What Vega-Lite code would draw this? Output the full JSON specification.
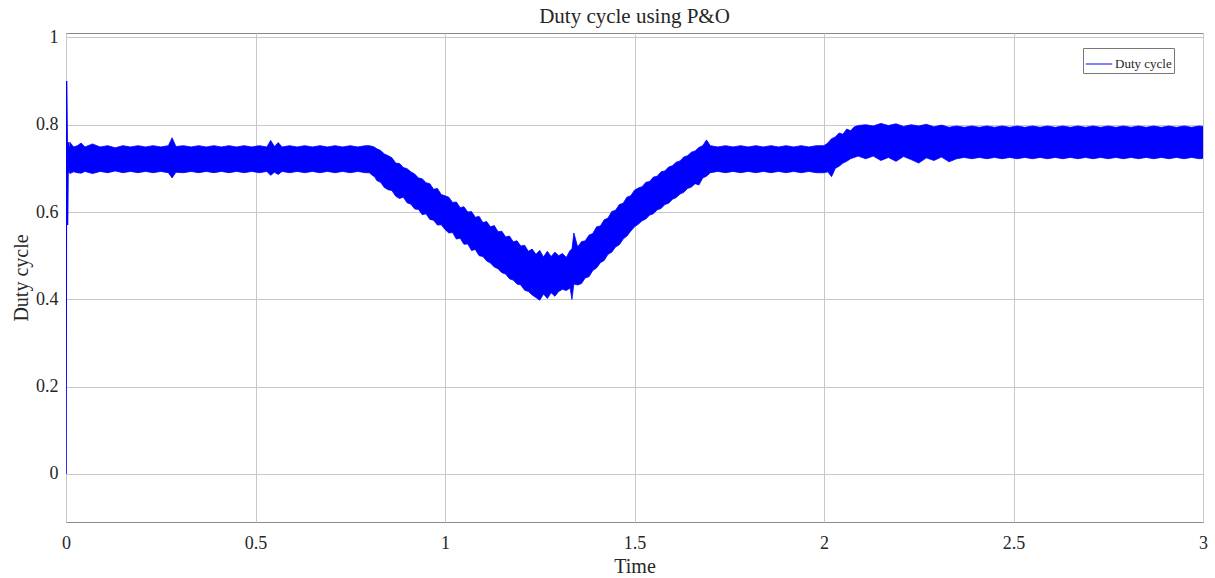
{
"$schema": "https://vega.github.io/schema/vega-lite/v6.json",
"width": 1137, "height": 489,
"autosize": {"type": "none"},
"padding": {"left": 66, "top": 33, "right": 12, "bottom": 56},
"background": "white",
"title": {"text": "Duty cycle using P&O", "font": "Liberation Serif", "fontSize": 21, "fontWeight": "normal", "color": "#262626", "offset": 1, "anchor": "middle"},
"config": {
  "view": {"stroke": "#8a8a8a", "strokeWidth": 1},
  "axis": {"labelFont": "Liberation Serif", "titleFont": "Liberation Serif", "labelFontSize": 18, "titleFontSize": 20, "titleFontWeight": "normal", "labelColor": "#262626", "titleColor": "#262626", "gridColor": "#c8c8c8", "gridWidth": 1, "domain": false, "tickColor": "#555", "tickSize": 0, "labelFlush": false}
},
"datasets": {
"band": [
{"t":0.01,"lo":0.688,"hi":0.760},{"t":0.02,"lo":0.692,"hi":0.749},{"t":0.03,"lo":0.690,"hi":0.752},{"t":0.04,"lo":0.689,"hi":0.758},{"t":0.05,"lo":0.693,"hi":0.749},
{"t":0.07,"lo":0.688,"hi":0.756},{"t":0.09,"lo":0.693,"hi":0.749},{"t":0.11,"lo":0.690,"hi":0.752},{"t":0.13,"lo":0.694,"hi":0.747},
{"t":0.15,"lo":0.690,"hi":0.752},{"t":0.17,"lo":0.693,"hi":0.749},{"t":0.19,"lo":0.690,"hi":0.752},{"t":0.21,"lo":0.693,"hi":0.749},
{"t":0.23,"lo":0.690,"hi":0.752},{"t":0.25,"lo":0.693,"hi":0.749},{"t":0.27,"lo":0.690,"hi":0.752},{"t":0.28,"lo":0.678,"hi":0.770},
{"t":0.29,"lo":0.691,"hi":0.750},{"t":0.31,"lo":0.690,"hi":0.752},{"t":0.33,"lo":0.693,"hi":0.749},{"t":0.35,"lo":0.690,"hi":0.752},
{"t":0.37,"lo":0.693,"hi":0.749},{"t":0.39,"lo":0.690,"hi":0.752},{"t":0.41,"lo":0.693,"hi":0.749},{"t":0.43,"lo":0.690,"hi":0.752},
{"t":0.45,"lo":0.693,"hi":0.749},{"t":0.47,"lo":0.690,"hi":0.752},{"t":0.49,"lo":0.693,"hi":0.749},{"t":0.51,"lo":0.690,"hi":0.752},
{"t":0.53,"lo":0.693,"hi":0.749},{"t":0.54,"lo":0.684,"hi":0.764},{"t":0.55,"lo":0.691,"hi":0.750},{"t":0.56,"lo":0.686,"hi":0.759},
{"t":0.57,"lo":0.693,"hi":0.749},{"t":0.59,"lo":0.690,"hi":0.752},{"t":0.61,"lo":0.693,"hi":0.749},{"t":0.63,"lo":0.690,"hi":0.752},
{"t":0.65,"lo":0.693,"hi":0.749},{"t":0.67,"lo":0.690,"hi":0.752},{"t":0.69,"lo":0.693,"hi":0.749},{"t":0.71,"lo":0.690,"hi":0.752},
{"t":0.73,"lo":0.693,"hi":0.749},{"t":0.75,"lo":0.690,"hi":0.752},{"t":0.77,"lo":0.693,"hi":0.749},{"t":0.79,"lo":0.690,"hi":0.752},
{"t":0.80,"lo":0.690,"hi":0.752},{"t":0.81,"lo":0.683,"hi":0.750},{"t":0.815,"lo":0.680,"hi":0.748},{"t":0.82,"lo":0.672,"hi":0.745},{"t":0.83,"lo":0.668,"hi":0.741},
{"t":0.84,"lo":0.656,"hi":0.733},{"t":0.85,"lo":0.651,"hi":0.729},{"t":0.86,"lo":0.649,"hi":0.724},{"t":0.87,"lo":0.636,"hi":0.712},
{"t":0.88,"lo":0.631,"hi":0.711},{"t":0.89,"lo":0.634,"hi":0.702},{"t":0.90,"lo":0.621,"hi":0.699},{"t":0.91,"lo":0.618,"hi":0.692},
{"t":0.92,"lo":0.607,"hi":0.687},{"t":0.93,"lo":0.606,"hi":0.678},{"t":0.94,"lo":0.594,"hi":0.676},{"t":0.95,"lo":0.596,"hi":0.667},
{"t":0.96,"lo":0.583,"hi":0.665},{"t":0.97,"lo":0.581,"hi":0.652},{"t":0.98,"lo":0.570,"hi":0.654},{"t":0.99,"lo":0.571,"hi":0.640},
{"t":1.00,"lo":0.560,"hi":0.637},{"t":1.01,"lo":0.552,"hi":0.634},{"t":1.02,"lo":0.553,"hi":0.622},{"t":1.03,"lo":0.538,"hi":0.623},
{"t":1.04,"lo":0.540,"hi":0.610},{"t":1.05,"lo":0.526,"hi":0.612},{"t":1.06,"lo":0.527,"hi":0.600},{"t":1.07,"lo":0.512,"hi":0.601},
{"t":1.08,"lo":0.514,"hi":0.588},{"t":1.09,"lo":0.500,"hi":0.590},{"t":1.10,"lo":0.498,"hi":0.576},{"t":1.11,"lo":0.488,"hi":0.578},
{"t":1.12,"lo":0.483,"hi":0.566},{"t":1.13,"lo":0.474,"hi":0.569},{"t":1.14,"lo":0.470,"hi":0.555},{"t":1.15,"lo":0.461,"hi":0.556},
{"t":1.16,"lo":0.458,"hi":0.543},{"t":1.17,"lo":0.447,"hi":0.545},{"t":1.18,"lo":0.444,"hi":0.532},{"t":1.19,"lo":0.435,"hi":0.534},
{"t":1.20,"lo":0.433,"hi":0.522},{"t":1.21,"lo":0.421,"hi":0.524},{"t":1.22,"lo":0.418,"hi":0.510},{"t":1.23,"lo":0.410,"hi":0.515},
{"t":1.24,"lo":0.404,"hi":0.503},{"t":1.25,"lo":0.398,"hi":0.512},{"t":1.26,"lo":0.412,"hi":0.497},{"t":1.27,"lo":0.402,"hi":0.510},
{"t":1.28,"lo":0.415,"hi":0.498},{"t":1.29,"lo":0.407,"hi":0.508},{"t":1.30,"lo":0.418,"hi":0.500},{"t":1.31,"lo":0.423,"hi":0.505},
{"t":1.32,"lo":0.420,"hi":0.496},{"t":1.33,"lo":0.426,"hi":0.512},{"t":1.335,"lo":0.400,"hi":0.515},{"t":1.34,"lo":0.435,"hi":0.552},
{"t":1.35,"lo":0.433,"hi":0.520},{"t":1.36,"lo":0.436,"hi":0.532},{"t":1.37,"lo":0.449,"hi":0.534},{"t":1.38,"lo":0.452,"hi":0.547},
{"t":1.39,"lo":0.466,"hi":0.551},{"t":1.40,"lo":0.472,"hi":0.566},{"t":1.41,"lo":0.484,"hi":0.568},{"t":1.42,"lo":0.489,"hi":0.582},
{"t":1.43,"lo":0.503,"hi":0.586},{"t":1.44,"lo":0.508,"hi":0.601},{"t":1.45,"lo":0.520,"hi":0.604},{"t":1.46,"lo":0.525,"hi":0.617},
{"t":1.47,"lo":0.538,"hi":0.620},{"t":1.48,"lo":0.545,"hi":0.634},{"t":1.49,"lo":0.556,"hi":0.637},{"t":1.50,"lo":0.566,"hi":0.650},
{"t":1.51,"lo":0.572,"hi":0.655},{"t":1.52,"lo":0.580,"hi":0.658},{"t":1.53,"lo":0.584,"hi":0.668},{"t":1.54,"lo":0.593,"hi":0.670},
{"t":1.55,"lo":0.596,"hi":0.680},{"t":1.56,"lo":0.605,"hi":0.682},{"t":1.57,"lo":0.608,"hi":0.692},{"t":1.58,"lo":0.617,"hi":0.694},
{"t":1.59,"lo":0.620,"hi":0.703},{"t":1.60,"lo":0.629,"hi":0.706},{"t":1.61,"lo":0.633,"hi":0.714},{"t":1.62,"lo":0.641,"hi":0.717},
{"t":1.63,"lo":0.645,"hi":0.726},{"t":1.64,"lo":0.654,"hi":0.729},{"t":1.65,"lo":0.657,"hi":0.737},{"t":1.66,"lo":0.665,"hi":0.740},
{"t":1.67,"lo":0.662,"hi":0.748},{"t":1.68,"lo":0.678,"hi":0.752},{"t":1.69,"lo":0.682,"hi":0.765},{"t":1.70,"lo":0.690,"hi":0.752},
{"t":1.72,"lo":0.693,"hi":0.749},{"t":1.74,"lo":0.690,"hi":0.752},{"t":1.76,"lo":0.693,"hi":0.749},{"t":1.78,"lo":0.690,"hi":0.752},
{"t":1.80,"lo":0.693,"hi":0.749},{"t":1.82,"lo":0.690,"hi":0.752},{"t":1.84,"lo":0.693,"hi":0.749},{"t":1.86,"lo":0.690,"hi":0.752},
{"t":1.88,"lo":0.693,"hi":0.749},{"t":1.90,"lo":0.690,"hi":0.752},{"t":1.92,"lo":0.693,"hi":0.749},{"t":1.94,"lo":0.690,"hi":0.752},
{"t":1.96,"lo":0.693,"hi":0.749},{"t":1.98,"lo":0.690,"hi":0.752},{"t":2.00,"lo":0.690,"hi":0.752},{"t":2.01,"lo":0.692,"hi":0.758},
{"t":2.02,"lo":0.681,"hi":0.768},{"t":2.03,"lo":0.700,"hi":0.772},{"t":2.04,"lo":0.705,"hi":0.781},{"t":2.05,"lo":0.712,"hi":0.778},
{"t":2.06,"lo":0.716,"hi":0.790},{"t":2.07,"lo":0.722,"hi":0.786},{"t":2.08,"lo":0.725,"hi":0.795},{"t":2.09,"lo":0.728,"hi":0.798},
{"t":2.11,"lo":0.722,"hi":0.800},{"t":2.13,"lo":0.728,"hi":0.797},{"t":2.15,"lo":0.718,"hi":0.803},{"t":2.17,"lo":0.725,"hi":0.798},
{"t":2.19,"lo":0.716,"hi":0.802},{"t":2.21,"lo":0.727,"hi":0.796},{"t":2.23,"lo":0.720,"hi":0.800},{"t":2.25,"lo":0.712,"hi":0.797},
{"t":2.27,"lo":0.724,"hi":0.801},{"t":2.29,"lo":0.718,"hi":0.795},{"t":2.31,"lo":0.726,"hi":0.799},{"t":2.33,"lo":0.715,"hi":0.794},
{"t":2.35,"lo":0.722,"hi":0.797},{"t":2.37,"lo":0.725,"hi":0.794},{"t":2.39,"lo":0.722,"hi":0.797},{"t":2.41,"lo":0.725,"hi":0.794},
{"t":2.43,"lo":0.722,"hi":0.797},{"t":2.45,"lo":0.725,"hi":0.794},{"t":2.47,"lo":0.722,"hi":0.797},{"t":2.49,"lo":0.725,"hi":0.794},
{"t":2.51,"lo":0.722,"hi":0.797},{"t":2.53,"lo":0.725,"hi":0.794},{"t":2.55,"lo":0.722,"hi":0.797},{"t":2.57,"lo":0.725,"hi":0.794},
{"t":2.59,"lo":0.722,"hi":0.797},{"t":2.61,"lo":0.725,"hi":0.794},{"t":2.63,"lo":0.722,"hi":0.797},{"t":2.65,"lo":0.725,"hi":0.794},
{"t":2.67,"lo":0.722,"hi":0.797},{"t":2.69,"lo":0.725,"hi":0.794},{"t":2.71,"lo":0.722,"hi":0.797},{"t":2.73,"lo":0.725,"hi":0.794},
{"t":2.75,"lo":0.722,"hi":0.797},{"t":2.77,"lo":0.725,"hi":0.794},{"t":2.79,"lo":0.722,"hi":0.797},{"t":2.81,"lo":0.725,"hi":0.794},
{"t":2.83,"lo":0.722,"hi":0.797},{"t":2.85,"lo":0.725,"hi":0.794},{"t":2.87,"lo":0.722,"hi":0.797},{"t":2.89,"lo":0.725,"hi":0.794},
{"t":2.91,"lo":0.722,"hi":0.797},{"t":2.93,"lo":0.725,"hi":0.794},{"t":2.95,"lo":0.722,"hi":0.797},{"t":2.97,"lo":0.725,"hi":0.794},
{"t":2.99,"lo":0.722,"hi":0.797},{"t":3.00,"lo":0.723,"hi":0.796}
],
"init": [
{"t":0,"v":0},{"t":0.0015,"v":0.9},{"t":0.003,"v":0.78},{"t":0.004,"v":0.57},{"t":0.006,"v":0.76},{"t":0.008,"v":0.69},{"t":0.01,"v":0.75}
]
},
"layer": [
{
  "data": {"name": "band"},
  "mark": {"type": "area", "stroke": "#0000ff", "strokeWidth": 0.8, "strokeJoin": "miter", "clip": true},
  "encoding": {
    "x": {"field": "t", "type": "quantitative", "scale": {"domain": [0, 3], "nice": false, "zero": false},
          "axis": {"title": "Time", "values": [0,0.5,1,1.5,2,2.5,3], "format": "~g", "labelPadding": 12, "titlePadding": 4, "grid": true}},
    "y": {"field": "lo", "type": "quantitative", "scale": {"domain": [-0.11, 1.01], "nice": false, "zero": false},
          "axis": {"title": "Duty cycle", "values": [0,0.2,0.4,0.6,0.8,1], "format": "~g", "labelPadding": 8, "titlePadding": 4, "grid": true}},
    "y2": {"field": "hi"},
    "color": {"datum": "Duty cycle", "type": "nominal", "scale": {"range": ["#0000ff"]},
      "legend": {"title": null, "orient": "none", "legendX": 1017, "legendY": 15, "symbolType": "stroke", "symbolStrokeColor": "#0000ff", "symbolStrokeWidth": 1, "symbolSize": 700,
        "labelFont": "Liberation Serif", "labelFontSize": 13, "labelColor": "#262626", "labelOffset": 2, "strokeColor": "#777", "fillColor": "white", "padding": 2}}
  }
},
{
  "data": {"name": "init"},
  "mark": {"type": "line", "strokeWidth": 1.5, "clip": true},
  "encoding": {
    "x": {"field": "t", "type": "quantitative"},
    "y": {"field": "v", "type": "quantitative"},
    "color": {"datum": "Duty cycle", "type": "nominal"}
  }
}
]
}
